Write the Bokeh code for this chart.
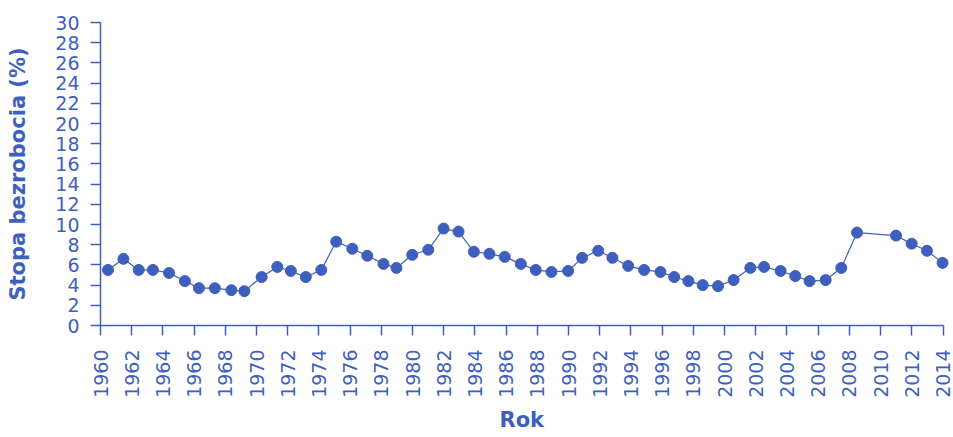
from bokeh.plotting import figure
from bokeh.models import Range1d, SingleIntervalTicker, ColumnDataSource, Title
from bokeh.embed import file_html
from bokeh.resources import INLINE
import math

years = [1960.48, 1961.47, 1962.45, 1963.36, 1964.39, 1965.41, 1966.31, 1967.33, 1968.39, 1969.22,
         1970.33, 1971.33, 1972.20, 1973.16, 1974.15, 1975.11, 1976.14, 1977.10, 1978.14, 1978.97,
         1979.98, 1981.01, 1981.99, 1982.95, 1983.93, 1984.93, 1985.91, 1986.94, 1987.90, 1988.90,
         1989.97, 1990.87, 1991.90, 1992.81, 1993.82, 1994.84, 1995.89, 1996.77, 1997.68, 1998.60,
         1999.58, 2000.58, 2001.65, 2002.53, 2003.59, 2004.53, 2005.45, 2006.48, 2007.48, 2008.49,
         2010.99, 2011.99, 2012.97, 2013.97]
rates = [5.5, 6.6, 5.5, 5.5, 5.2, 4.4, 3.7, 3.7, 3.5, 3.4,
         4.8, 5.8, 5.4, 4.8, 5.5, 8.3, 7.6, 6.9, 6.1, 5.7,
         7.0, 7.5, 9.6, 9.3, 7.3, 7.1, 6.8, 6.1, 5.5, 5.3,
         5.4, 6.7, 7.4, 6.7, 5.9, 5.5, 5.3, 4.8, 4.4, 4.0,
         3.9, 4.5, 5.7, 5.8, 5.4, 4.9, 4.4, 4.5, 5.7, 9.2,
         8.9, 8.1, 7.4, 6.2]

x_title = "Rok"
y_title = "Stopa bezrobocia (%)"
x_start, x_end = 1960, 2014
y_start, y_end = 0, 30

COLOR = "#3f5fbf"
FONT = "DejaVu Sans"

src = ColumnDataSource(data=dict(x=years, y=rates))

p = figure(width=953, height=437, output_backend="svg", toolbar_location=None,
           x_range=Range1d(x_start, 2014.48), y_range=Range1d(y_start, y_end),
           min_border_left=100, min_border_right=3, min_border_top=22, min_border_bottom=112)
p.outline_line_color = None
p.xgrid.visible = False
p.ygrid.visible = False
p.background_fill_color = "white"
p.border_fill_color = "white"

p.line("x", "y", source=src, line_color=COLOR, line_width=1.2)
p.scatter("x", "y", source=src, size=11, fill_color=COLOR, line_color=COLOR)

p.xaxis.ticker = SingleIntervalTicker(interval=2)
p.yaxis.ticker = SingleIntervalTicker(interval=2)
p.xaxis.bounds = (x_start, x_end)
p.xaxis.major_label_orientation = math.pi / 2

for ax in (p.xaxis, p.yaxis):
    ax.axis_line_color = COLOR
    ax.axis_line_width = 1.5
    ax.major_tick_line_color = COLOR
    ax.major_tick_line_width = 1.5
    ax.major_tick_in = 0
    ax.major_tick_out = 10
    ax.minor_tick_line_color = None
    ax.major_label_text_color = COLOR
    ax.major_label_text_font = FONT
    ax.major_label_text_font_size = "19px"
    ax.axis_label_text_color = COLOR
    ax.axis_label_text_font = FONT
    ax.axis_label_text_font_size = "21px"
    ax.axis_label_text_font_style = "bold"

p.yaxis.axis_label = y_title
p.xaxis.major_label_standoff = 14
p.yaxis.major_label_standoff = 11
p.yaxis.axis_label_standoff = 22

# x-axis title as a panel below the axis
p.add_layout(Title(text=x_title, align="left", offset=399, standoff=11,
                   text_color=COLOR, text_font=FONT, text_font_size="21px",
                   text_font_style="bold"), "below")

open("out.html", "w").write(file_html(p, INLINE))
